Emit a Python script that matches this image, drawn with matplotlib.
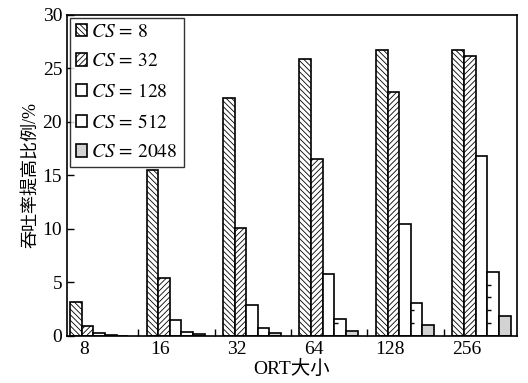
import numpy as np
import matplotlib.pyplot as plt
from matplotlib.ticker import FixedLocator

plt.rcParams['font.family'] = ['Liberation Serif', 'Noto Sans CJK SC']
plt.rcParams['mathtext.fontset'] = 'stix'
plt.rcParams['hatch.linewidth'] = 0.6

ort_sizes = ['8', '16', '32', '64', '128', '256']
cs_labels = ['8', '32', '128', '512', '2048']

# throughput improvement (%) per CS, one value per ORT size
cs8 = [3.2, 15.5, 22.2, 25.9, 26.7, 26.7]
cs32 = [0.9, 5.4, 10.1, 16.5, 22.8, 26.2]
cs128 = [0.25, 1.5, 2.9, 5.8, 10.5, 16.8]
cs512 = [0.05, 0.4, 0.7, 1.6, 3.1, 6.0]
cs2048 = [0.02, 0.15, 0.3, 0.5, 1.0, 1.9]

series = [cs8, cs32, cs128, cs512, cs2048]
hatches = ['\\' * 6, '/' * 6, '', '', '']
faces = ['white', 'white', 'white', 'white', '#d3d3d3']

fig = plt.figure(figsize=(5.28, 3.83), dpi=100)
ax = fig.add_axes([0.127, 0.123, 0.852, 0.838])

w = 0.152
x = np.arange(len(ort_sizes))
for k, (vals, h, fc) in enumerate(zip(series, hatches, faces)):
    left = x + k * w
    ax.bar(left, vals, width=w, align='edge', color=fc, edgecolor='black',
           hatch=h, linewidth=1.2, label=r'$CS\,=\,\mathrm{%s}$' % cs_labels[k], zorder=2)
    if k == 3:
        # short dashes along the left side of the CS=512 bars
        for l, v in zip(left, vals):
            ys = np.arange(1.2, v, 1.2)
            ax.hlines(ys, l, l + w * 0.3, color='black', lw=1.0, zorder=3)

ax.set_xlim(-0.039, 5.843)
ax.set_ylim(0, 30)
ax.set_xticks(x + 0.183)
ax.set_xticklabels(ort_sizes)
ax.xaxis.set_minor_locator(FixedLocator(x[:-1] + 0.889))
ax.set_yticks(np.arange(0, 31, 5))
ax.tick_params(axis='x', which='major', length=0, labelsize=14, pad=4)
ax.tick_params(axis='x', which='minor', direction='in', length=5, width=1)
ax.tick_params(axis='y', direction='in', length=5, width=1, labelsize=14)
for s in ax.spines.values():
    s.set_linewidth(1.2)

ax.set_xlabel('ORT大小', fontsize=14, labelpad=1)
ax.set_ylabel('吞吐率提高比例/%', fontsize=13, labelpad=2)

leg = ax.legend(loc='upper left', fontsize=14, handlelength=0.6, handleheight=0.6,
                handletextpad=0.2, labelspacing=0.65, borderpad=0.3,
                borderaxespad=0.15, fancybox=False, edgecolor='black')
leg.get_frame().set_linewidth(1.0)

plt.savefig('out.png', dpi=100)
